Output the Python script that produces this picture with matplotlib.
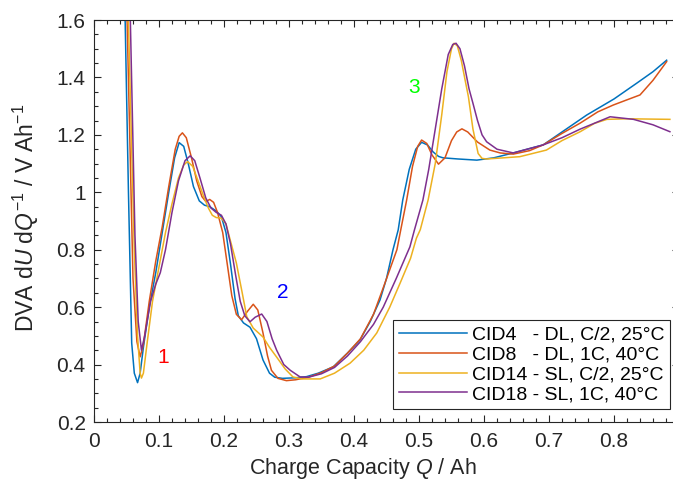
import matplotlib
matplotlib.use("Agg")
import matplotlib.pyplot as plt
from matplotlib.ticker import MultipleLocator

plt.rcParams['font.family'] = ['Liberation Sans', 'DejaVu Sans']
plt.rcParams['mathtext.fontset'] = 'custom'
plt.rcParams['mathtext.rm'] = 'Liberation Sans'
plt.rcParams['mathtext.it'] = 'Liberation Sans:italic'

# ---------------- data ----------------
cid4_x = [0.045, 0.048, 0.053, 0.058, 0.062, 0.067, 0.071, 0.076, 0.085, 0.095, 0.105, 0.115, 0.124,
          0.131, 0.138, 0.145, 0.153, 0.162, 0.170, 0.178, 0.188, 0.196, 0.203, 0.210, 0.217, 0.222,
          0.230, 0.240, 0.250, 0.260, 0.270, 0.278, 0.290, 0.310, 0.327, 0.345, 0.368, 0.390, 0.409,
          0.425, 0.440, 0.450, 0.460, 0.468, 0.475, 0.485, 0.495, 0.504, 0.513, 0.522, 0.530, 0.537,
          0.560, 0.589, 0.615, 0.645, 0.691, 0.720, 0.758, 0.800, 0.835, 0.860, 0.881]
cid4_y = [1.75, 1.59, 1.00, 0.475, 0.37, 0.337, 0.37, 0.46, 0.60, 0.72, 0.86, 1.00, 1.12,
          1.173, 1.16, 1.10, 1.02, 0.97, 0.955, 0.950, 0.935, 0.915, 0.86, 0.75, 0.63, 0.57,
          0.545, 0.53, 0.49, 0.416, 0.37, 0.356, 0.352, 0.354, 0.358, 0.37, 0.392, 0.44, 0.485,
          0.55, 0.625, 0.70, 0.80, 0.869, 0.973, 1.08, 1.15, 1.174, 1.165, 1.14, 1.125, 1.12,
          1.116, 1.112, 1.12, 1.137, 1.165, 1.21, 1.269, 1.325, 1.38, 1.42, 1.46]

cid8_x = [0.047, 0.051, 0.060, 0.066, 0.071, 0.076, 0.085, 0.095, 0.105, 0.115, 0.125, 0.131, 0.136,
          0.142, 0.150, 0.158, 0.166, 0.172, 0.178, 0.184, 0.190, 0.198, 0.205, 0.212, 0.219, 0.227,
          0.236, 0.245, 0.252, 0.260, 0.267, 0.273, 0.283, 0.296, 0.310, 0.330, 0.350, 0.370, 0.390,
          0.410, 0.430, 0.447, 0.466, 0.472, 0.481, 0.490, 0.498, 0.504, 0.512, 0.520, 0.530, 0.540,
          0.550, 0.558, 0.566, 0.575, 0.590, 0.609, 0.625, 0.645, 0.670, 0.691, 0.720, 0.748, 0.775,
          0.799, 0.820, 0.840, 0.860, 0.881]
cid8_y = [1.75, 1.59, 0.70, 0.48, 0.427, 0.47, 0.62, 0.76, 0.88, 1.02, 1.15, 1.195, 1.207,
          1.19, 1.12, 1.04, 0.985, 0.968, 0.975, 0.965, 0.93, 0.86, 0.75, 0.64, 0.575, 0.556,
          0.585, 0.61, 0.59, 0.51, 0.43, 0.38, 0.352, 0.344, 0.347, 0.356, 0.372, 0.395, 0.44,
          0.49, 0.575, 0.68, 0.80, 0.87, 0.973, 1.09, 1.16, 1.182, 1.17, 1.13, 1.098, 1.12,
          1.18, 1.21, 1.221, 1.21, 1.175, 1.147, 1.137, 1.133, 1.145, 1.165, 1.205, 1.241, 1.28,
          1.304, 1.322, 1.339, 1.39, 1.455]

cid14_x = [0.050, 0.053, 0.062, 0.067, 0.071, 0.073, 0.076, 0.082, 0.090, 0.100, 0.110, 0.120, 0.130,
           0.138, 0.144, 0.152, 0.160, 0.168, 0.176, 0.182, 0.188, 0.196, 0.203, 0.210, 0.219, 0.228,
           0.235, 0.245, 0.260, 0.270, 0.281, 0.294, 0.306, 0.320, 0.332, 0.348, 0.370, 0.394, 0.415,
           0.435, 0.455, 0.471, 0.487, 0.496, 0.502, 0.514, 0.525, 0.535, 0.543, 0.550, 0.554, 0.559,
           0.565, 0.571, 0.576, 0.583, 0.591, 0.597, 0.604, 0.630, 0.655, 0.696, 0.720, 0.748, 0.770,
           0.789, 0.820, 0.886]
cid14_y = [1.75, 1.59, 0.80, 0.50, 0.37, 0.353, 0.37, 0.48, 0.62, 0.74, 0.86, 0.96, 1.05,
           1.095, 1.107, 1.09, 1.04, 0.99, 0.945, 0.92, 0.912, 0.91, 0.89, 0.83, 0.754, 0.65,
           0.567, 0.527, 0.496, 0.46, 0.426, 0.385, 0.357, 0.350, 0.350, 0.350, 0.37, 0.405, 0.45,
           0.51, 0.60, 0.684, 0.77, 0.84, 0.87, 0.973, 1.10, 1.27, 1.42, 1.50, 1.519, 1.51,
           1.46, 1.39, 1.333, 1.22, 1.135, 1.118, 1.116, 1.12, 1.124, 1.147, 1.18, 1.211, 1.24,
           1.254, 1.256, 1.254]

cid18_x = [0.052, 0.056, 0.063, 0.068, 0.073, 0.078, 0.087, 0.095, 0.102, 0.110, 0.120, 0.130, 0.140,
           0.148, 0.155, 0.163, 0.172, 0.180, 0.188, 0.196, 0.203, 0.210, 0.218, 0.225, 0.232, 0.240,
           0.248, 0.258, 0.266, 0.274, 0.281, 0.292, 0.302, 0.317, 0.330, 0.350, 0.370, 0.390, 0.410,
           0.430, 0.445, 0.465, 0.486, 0.493, 0.506, 0.515, 0.525, 0.535, 0.545, 0.552, 0.557, 0.563,
           0.570, 0.577, 0.583, 0.590, 0.597, 0.604, 0.620, 0.645, 0.691, 0.720, 0.748, 0.794, 0.830,
           0.860, 0.886]
cid18_y = [1.75, 1.59, 0.85, 0.55, 0.45, 0.50, 0.62, 0.68, 0.72, 0.80, 0.93, 1.04, 1.11,
           1.127, 1.11, 1.05, 0.98, 0.945, 0.93, 0.92, 0.89, 0.82, 0.71, 0.62, 0.57, 0.549,
           0.565, 0.576, 0.55, 0.49, 0.45, 0.40, 0.38, 0.357, 0.356, 0.368, 0.39, 0.43, 0.48,
           0.54, 0.60, 0.70, 0.81, 0.869, 0.973, 1.08, 1.22, 1.36, 1.48, 1.515, 1.519, 1.50,
           1.44, 1.36, 1.31, 1.25, 1.20, 1.176, 1.15, 1.137, 1.165, 1.19, 1.22, 1.263, 1.254,
           1.235, 1.211]

labels = ['CID4   - DL, C/2, 25°C', 'CID8   - DL, 1C, 40°C',
          'CID14 - SL, C/2, 25°C', 'CID18 - SL, 1C, 40°C']
colors = ['#0072BD', '#D95319', '#EDB120', '#7E2F8E']

annotations = [('1', 0.106, 0.425, '#FF0000'),
               ('2', 0.290, 0.650, '#0000FF'),
               ('3', 0.493, 1.365, '#00FF00')]

# ---------------- plot ----------------
W, H = 673, 484
fig = plt.figure(figsize=(W / 100, H / 100), dpi=100)
ax = fig.add_axes([94 / W, (H - 422) / H, 585 / W, 402 / H])

series = [(cid4_x, cid4_y), (cid8_x, cid8_y), (cid14_x, cid14_y), (cid18_x, cid18_y)]
for (xs, ys), c, lab in zip(series, colors, labels):
    ax.plot(xs, ys, color=c, lw=1.1, label=lab)

for t, x, y, c in annotations:
    ax.text(x, y, t, color=c, fontsize=15, ha='center', va='center')

ax.set_xlim(0, 0.9)
ax.set_ylim(0.2, 1.6)
ax.xaxis.set_minor_locator(MultipleLocator(0.02))
ax.yaxis.set_minor_locator(MultipleLocator(0.05))
ax.set_xticks([0, 0.1, 0.2, 0.3, 0.4, 0.5, 0.6, 0.7, 0.8])
ax.set_xticklabels(['0', '0.1', '0.2', '0.3', '0.4', '0.5', '0.6', '0.7', '0.8'])
ax.set_yticks([0.2, 0.4, 0.6, 0.8, 1.0, 1.2, 1.4, 1.6])
ax.set_yticklabels(['0.2', '0.4', '0.6', '0.8', '1', '1.2', '1.4', '1.6'])
ax.tick_params(which='both', direction='in', top=True, right=True, colors='#262626',
               labelcolor='#262626', width=0.8)
ax.tick_params(which='major', length=5, labelsize=15)
ax.tick_params(axis='x', which='major', pad=7)
ax.tick_params(axis='y', which='major', pad=6)
ax.tick_params(which='minor', length=3)
for s in ax.spines.values():
    s.set_color('#262626')
    s.set_linewidth(0.8)

ax.set_xlabel(r'Charge Capacity $\mathit{Q}$ / Ah', fontsize=15.5, color='#262626')
ax.xaxis.set_label_coords((363 - 94) / 585, (422 - 456) / 402)
ax.set_ylabel(r'DVA d$\mathit{U}$ d$\mathit{Q}^{\mathrm{-1}}$ / V Ah$^{\mathrm{-1}}$',
              fontsize=16.5, color='#262626')
ax.yaxis.set_label_coords((41 - 94) / 585, (422 - 218) / 402)

leg = ax.legend(loc='upper left', bbox_to_anchor=(393 / W, 1 - 320 / H),
                bbox_transform=fig.transFigure, borderaxespad=0, fontsize=14,
                handlelength=3.5, handletextpad=0.27, labelspacing=0.12,
                borderpad=0.3, fancybox=False, frameon=True, framealpha=1)
leg.get_frame().set_edgecolor('#262626')
leg.get_frame().set_linewidth(0.8)

fig.savefig('out.png', dpi=100)
